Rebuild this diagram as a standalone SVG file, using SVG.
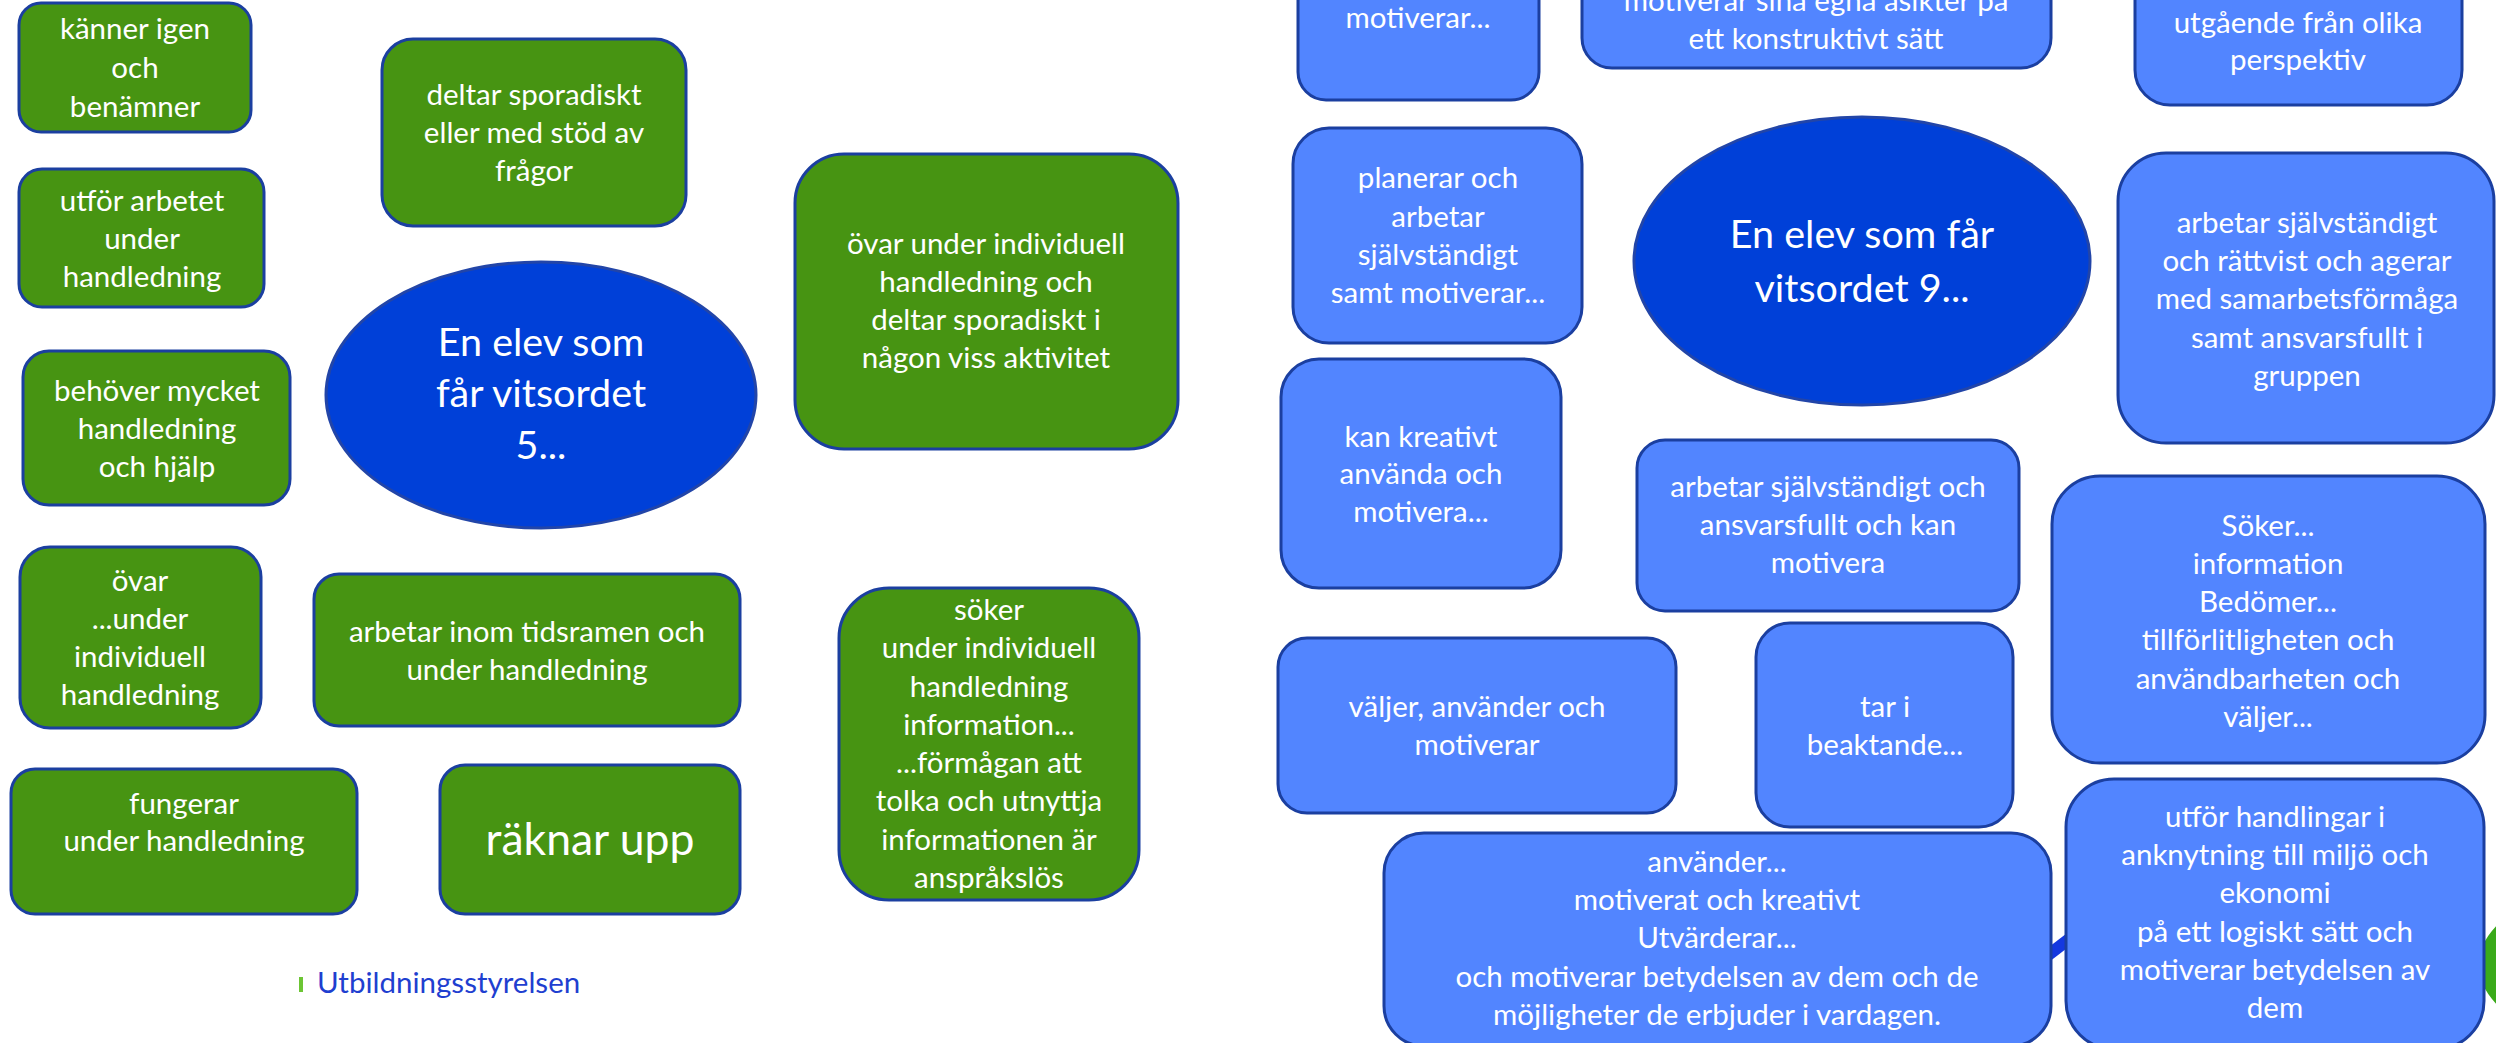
<svg xmlns="http://www.w3.org/2000/svg" width="2496" height="1043" viewBox="0 0 2496 1043">
<style>
text{font-family:Lato,"Liberation Sans",sans-serif;fill:#fff;text-anchor:middle;font-size:29.5px}
.g rect{fill:#479412;stroke:#1B3FA0;stroke-width:3}
.b rect{fill:#5285FF;stroke:#1B3FA0;stroke-width:3}
.e ellipse{fill:#0040D8;stroke:#2245A8;stroke-width:3}
.e text{font-size:39.5px}
.big{font-size:44.5px}
.logo{fill:#1F3FD0;text-anchor:start}
</style>
<g id="decor">
<path d="M2030 969 L2090 923" stroke="#1438E0" stroke-width="12" fill="none"/>
<path d="M2505 930 Q2470 965 2505 1000" stroke="#3AAA1A" stroke-width="18" fill="none"/>
</g>
<g id="connectors"></g>
<g id="b1" class="g"><rect x="19" y="3" width="232" height="129" rx="22"/><text x="135" y="39">känner igen</text><text x="135" y="78">och</text><text x="135" y="117">benämner</text></g>
<g id="b2" class="g"><rect x="382" y="39" width="304" height="187" rx="31"/><text x="534" y="105">deltar sporadiskt</text><text x="534" y="143">eller med stöd av</text><text x="534" y="181">frågor</text></g>
<g id="b3" class="g"><rect x="19" y="169" width="245" height="138" rx="23"/><text x="142" y="211">utför arbetet</text><text x="142" y="249">under</text><text x="142" y="287">handledning</text></g>
<g id="e5" class="e"><ellipse cx="541" cy="395" rx="215" ry="133"/><text x="541" y="356">En elev som</text><text x="541" y="407">får vitsordet</text><text x="541" y="459">5...</text></g>
<g id="b4" class="g"><rect x="795" y="154" width="383" height="295" rx="49"/><text x="986" y="254">övar under individuell</text><text x="986" y="292">handledning och</text><text x="986" y="330">deltar sporadiskt i</text><text x="986" y="368">någon viss aktivitet</text></g>
<g id="b5" class="g"><rect x="23" y="351" width="267" height="154" rx="26"/><text x="157" y="401">behöver mycket</text><text x="157" y="439">handledning</text><text x="157" y="477">och hjälp</text></g>
<g id="b6" class="g"><rect x="20" y="547" width="241" height="181" rx="30"/><text x="140" y="591">övar</text><text x="140" y="629">...under</text><text x="140" y="667">individuell</text><text x="140" y="705">handledning</text></g>
<g id="b7" class="g"><rect x="314" y="574" width="426" height="152" rx="25"/><text x="527" y="642">arbetar inom tidsramen och</text><text x="527" y="680">under handledning</text></g>
<g id="b8" class="g"><rect x="839" y="588" width="300" height="312" rx="50"/><text x="989" y="620">söker</text><text x="989" y="658">under individuell</text><text x="989" y="697">handledning</text><text x="989" y="735">information...</text><text x="989" y="773">...förmågan att</text><text x="989" y="811">tolka och utnyttja</text><text x="989" y="850">informationen är</text><text x="989" y="888">anspråkslös</text></g>
<g id="b9" class="g"><rect x="11" y="769" width="346" height="145" rx="24"/><text x="184" y="814">fungerar</text><text x="184" y="851">under handledning</text></g>
<g id="b10" class="g"><rect x="440" y="765" width="300" height="149" rx="25"/><text class="big" x="590" y="855">räknar upp</text></g>
<g id="footer"><rect x="299" y="977" width="4" height="15" fill="#6CC534"/><text class="logo" x="317" y="993">Utbildningsstyrelsen</text></g>
<g id="r1" class="b"><rect x="1298" y="-40" width="241" height="140" rx="28"/><text x="1418" y="28">motiverar...</text></g>
<g id="r2" class="b"><rect x="1582" y="-60" width="469" height="128" rx="30"/><text x="1816" y="11">motiverar sina egna åsikter på</text><text x="1816" y="49">ett konstruktivt sätt</text></g>
<g id="r3" class="b"><rect x="2135" y="-60" width="327" height="165" rx="35"/><text x="2298" y="33">utgående från olika</text><text x="2298" y="70">perspektiv</text></g>
<g id="e9" class="e"><ellipse cx="1862" cy="261" rx="228" ry="144"/><text x="1862" y="248">En elev som får</text><text x="1862" y="302">vitsordet 9...</text></g>
<g id="r4" class="b"><rect x="1293" y="128" width="289" height="215" rx="36"/><text x="1438" y="188">planerar och</text><text x="1438" y="227">arbetar</text><text x="1438" y="265">självständigt</text><text x="1438" y="303">samt motiverar...</text></g>
<g id="r5" class="b"><rect x="2118" y="153" width="376" height="290" rx="48"/><text x="2307" y="233">arbetar självständigt</text><text x="2307" y="271">och rättvist och agerar</text><text x="2307" y="309">med samarbetsförmåga</text><text x="2307" y="348">samt ansvarsfullt i</text><text x="2307" y="386">gruppen</text></g>
<g id="r6" class="b"><rect x="1281" y="359" width="280" height="229" rx="38"/><text x="1421" y="447">kan kreativt</text><text x="1421" y="484">använda och</text><text x="1421" y="522">motivera...</text></g>
<g id="r7" class="b"><rect x="1637" y="440" width="382" height="171" rx="28"/><text x="1828" y="497">arbetar självständigt och</text><text x="1828" y="535">ansvarsfullt och kan</text><text x="1828" y="573">motivera</text></g>
<g id="r8" class="b"><rect x="2052" y="476" width="433" height="287" rx="48"/><text x="2268" y="536">Söker...</text><text x="2268" y="574">information</text><text x="2268" y="612">Bedömer...</text><text x="2268" y="650">tillförlitligheten och</text><text x="2268" y="689">användbarheten och</text><text x="2268" y="727">väljer...</text></g>
<g id="r9" class="b"><rect x="1278" y="638" width="398" height="175" rx="29"/><text x="1477" y="717">väljer, använder och</text><text x="1477" y="755">motiverar</text></g>
<g id="r10" class="b"><rect x="1756" y="623" width="257" height="204" rx="34"/><text x="1885" y="717">tar i</text><text x="1885" y="755">beaktande...</text></g>
<g id="r11" class="b"><rect x="1384" y="833" width="667" height="213" rx="40"/><text x="1717" y="872">använder...</text><text x="1717" y="910">motiverat och kreativt</text><text x="1717" y="948">Utvärderar...</text><text x="1717" y="987">och motiverar betydelsen av dem och de</text><text x="1717" y="1025">möjligheter de erbjuder i vardagen.</text></g>
<g id="r12" class="b"><rect x="2066" y="779" width="418" height="270" rx="48"/><text x="2275" y="827">utför handlingar i</text><text x="2275" y="865">anknytning till miljö och</text><text x="2275" y="903">ekonomi</text><text x="2275" y="942">på ett logiskt sätt och</text><text x="2275" y="980">motiverar betydelsen av</text><text x="2275" y="1018">dem</text></g>
</svg>
